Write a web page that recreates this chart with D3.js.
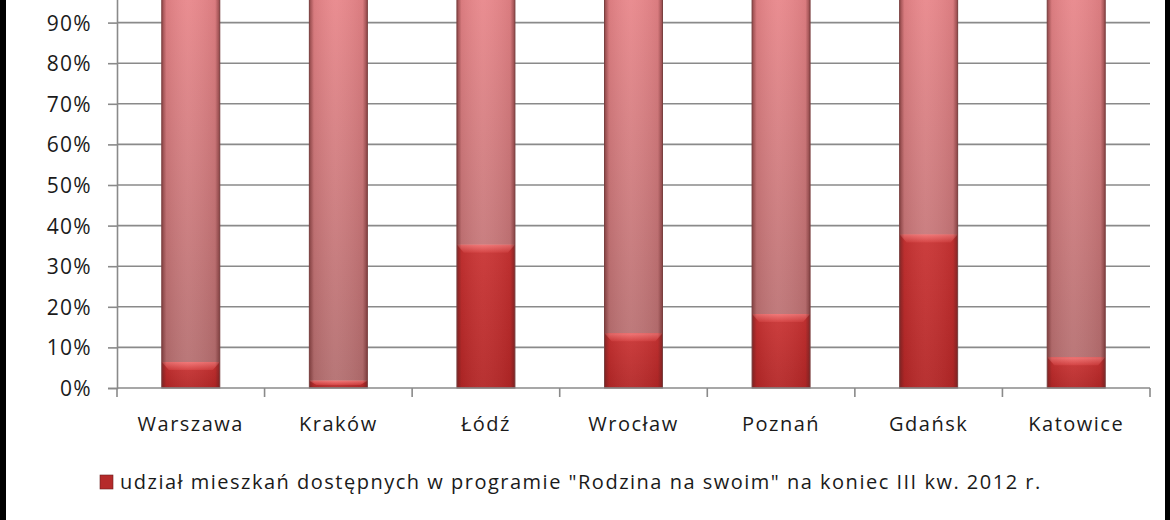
<!DOCTYPE html>
<html>
<head>
<meta charset="utf-8">
<script src="https://cdn.jsdelivr.net/npm/d3@7"></script>
<style>
  body { margin: 0; background: #fff; }
  svg { display: block; }
  text { font-family: "Open Sans", Lato, sans-serif; fill: #1a1a1a; }
</style>
</head>
<body>
<div id="chart"></div>
<script>
// cities and share of flats available in "Rodzina na swoim" (percent)
const cities = ['Warszawa', 'Kraków', 'Łódź', 'Wrocław', 'Poznań', 'Gdańsk', 'Katowice']
const available = [6.4, 1.8, 35.3, 13.5, 18.2, 37.8, 7.6]
const notAvailable = available.map(v => 100 - v)
const yTicks = [0, 10, 20, 30, 40, 50, 60, 70, 80, 90, 100]
const legendLabels = [
  'udział mieszkań dostępnych w programie "Rodzina na swoim" na koniec III kw. 2012 r.',
  'udział mieszkań niedostępnych w programie "Rodzina na swoim" na koniec III kw. 2012 r.'
]

window.onload = setup

function setup () {
  const width = 1170, height = 520
  const svg = d3.select('#chart').append('svg')
    .attr('width', width)
    .attr('height', height)

  const x = d3.scaleBand().domain(cities).range([117, 1150]).paddingInner(0.607).paddingOuter(0.3035)
  const y = d3.scaleLinear().domain([0, 100]).range([388, -18])

  const defs = svg.append('defs')

  // vertical shading of the upper (pink) series
  const gTop = defs.append('linearGradient').attr('id', 'gTop')
    .attr('gradientUnits', 'userSpaceOnUse').attr('x1', 0).attr('x2', 0).attr('y1', 0).attr('y2', 388)
  gTop.append('stop').attr('offset', '0%').attr('stop-color', '#e8868a')
  gTop.append('stop').attr('offset', '100%').attr('stop-color', '#b26e6f')

  // cylinder-ish horizontal shading
  const gSide = defs.append('linearGradient').attr('id', 'gSide')
  gSide.append('stop').attr('offset', '0%').attr('stop-color', '#5a1f1f').attr('stop-opacity', 0.6)
  gSide.append('stop').attr('offset', '8%').attr('stop-color', '#5a1f1f').attr('stop-opacity', 0.1)
  gSide.append('stop').attr('offset', '45%').attr('stop-color', '#ffffff').attr('stop-opacity', 0.06)
  gSide.append('stop').attr('offset', '92%').attr('stop-color', '#5a1f1f').attr('stop-opacity', 0.1)
  gSide.append('stop').attr('offset', '100%').attr('stop-color', '#5a1f1f').attr('stop-opacity', 0.6)

  const gBot = defs.append('linearGradient').attr('id', 'gBot')
    .attr('x1', 0).attr('x2', 0).attr('y1', 0).attr('y2', 1)
  gBot.append('stop').attr('offset', '0%').attr('stop-color', '#c93232')
  gBot.append('stop').attr('offset', '100%').attr('stop-color', '#b32525')

  const gCap = defs.append('linearGradient').attr('id', 'gCap')
    .attr('x1', 0).attr('x2', 0).attr('y1', 0).attr('y2', 1)
  gCap.append('stop').attr('offset', '0%').attr('stop-color', '#f07070')
  gCap.append('stop').attr('offset', '100%').attr('stop-color', '#d23a3a')

  // gridlines
  svg.append('g')
    .selectAll('line')
    .data(yTicks.filter(d => d > 0))
    .join('line')
    .attr('x1', 117).attr('x2', 1150)
    .attr('y1', d => y(d)).attr('y2', d => y(d))
    .attr('stroke', '#8a8a8a').attr('stroke-width', 1.6)

  // y axis
  const yAxis = d3.axisLeft(y).tickValues(yTicks).tickSize(9).tickPadding(16).tickFormat(d => d + '%')
  const ya = svg.append('g').attr('transform', 'translate(117,0)').call(yAxis)
  ya.select('.domain').attr('stroke', '#8a8a8a').attr('stroke-width', 1.6)
  ya.selectAll('.tick line').attr('stroke', '#8a8a8a').attr('stroke-width', 1.6)
  ya.selectAll('text').style('font-size', '21px').style('font-family', '"Open Sans", sans-serif')
    .style('letter-spacing', '1.3px').attr('fill', '#1a1a1a').attr('dy', '0.36em')

  // bars
  const bars = svg.append('g')
    .selectAll('g')
    .data(cities)
    .join('g')

  const bw = x.bandwidth()

  // upper series
  bars.append('rect')
    .attr('x', d => x(d))
    .attr('y', (d, i) => y(available[i] + notAvailable[i]))
    .attr('width', bw)
    .attr('height', (d, i) => y(available[i]) - y(available[i] + notAvailable[i]))
    .attr('fill', 'url(#gTop)')

  // lower series
  bars.append('rect')
    .attr('x', d => x(d))
    .attr('y', (d, i) => y(available[i]))
    .attr('width', bw)
    .attr('height', (d, i) => y(0) - y(available[i]))
    .attr('fill', 'url(#gBot)')

  // bevel cap on lower series
  bars.append('path')
    .attr('d', (d, i) => {
      const x0 = x(d), y0 = y(available[i])
      const h = Math.min(8, (y(0) - y0) * 0.6)
      return `M${x0},${y0}H${x0 + bw}L${x0 + bw - 7},${y0 + h}H${x0 + 7}Z`
    })
    .attr('fill', 'url(#gCap)')

  // side shading and outline
  bars.append('rect')
    .attr('x', d => x(d))
    .attr('y', y(100))
    .attr('width', bw)
    .attr('height', y(0) - y(100))
    .attr('fill', 'url(#gSide)')
    .attr('stroke', '#7a4040').attr('stroke-width', 1)

  // x axis
  const xa = svg.append('g').attr('transform', 'translate(0,388)')
  xa.append('line').attr('x1', 117).attr('x2', 1150).attr('stroke', '#8a8a8a').attr('stroke-width', 1.6)
  const bounds = d3.range(cities.length + 1).map(i => 117 + i * x.step())
  xa.selectAll('.tk').data(bounds).join('line').attr('class', 'tk')
    .attr('x1', d => d).attr('x2', d => d).attr('y1', 0).attr('y2', 9)
    .attr('stroke', '#8a8a8a').attr('stroke-width', 1.6)
  xa.selectAll('text').data(cities).join('text')
    .attr('x', d => x(d) + bw / 2).attr('y', 36).attr('dy', '0.35em')
    .attr('text-anchor', 'middle').style('font-size', '20px').style('letter-spacing', '1.5px')
    .text(d => d)

  // legend
  const legend = svg.append('g')
  const lg = legend.selectAll('g').data(legendLabels).join('g')
    .attr('transform', (d, i) => `translate(100,${482 + i * 50})`)
  lg.append('rect').attr('x', 0).attr('y', -7).attr('width', 13).attr('height', 14)
    .attr('fill', (d, i) => i === 0 ? '#b52a2a' : '#d88080')
    .attr('stroke', '#6a2020').attr('stroke-width', 0.6)
  lg.append('text').attr('x', 20).attr('y', 0).attr('dy', '0.35em')
    .style('font-size', '20px').style('letter-spacing', '1.5px').text(d => d)

  // black frame strips at the edges
  svg.append('rect').attr('x', 0).attr('y', 0).attr('width', 6).attr('height', height).attr('fill', '#000')
  svg.append('rect').attr('x', 1165).attr('y', 0).attr('width', 5).attr('height', height).attr('fill', '#000')
}
</script>
</body>
</html>
